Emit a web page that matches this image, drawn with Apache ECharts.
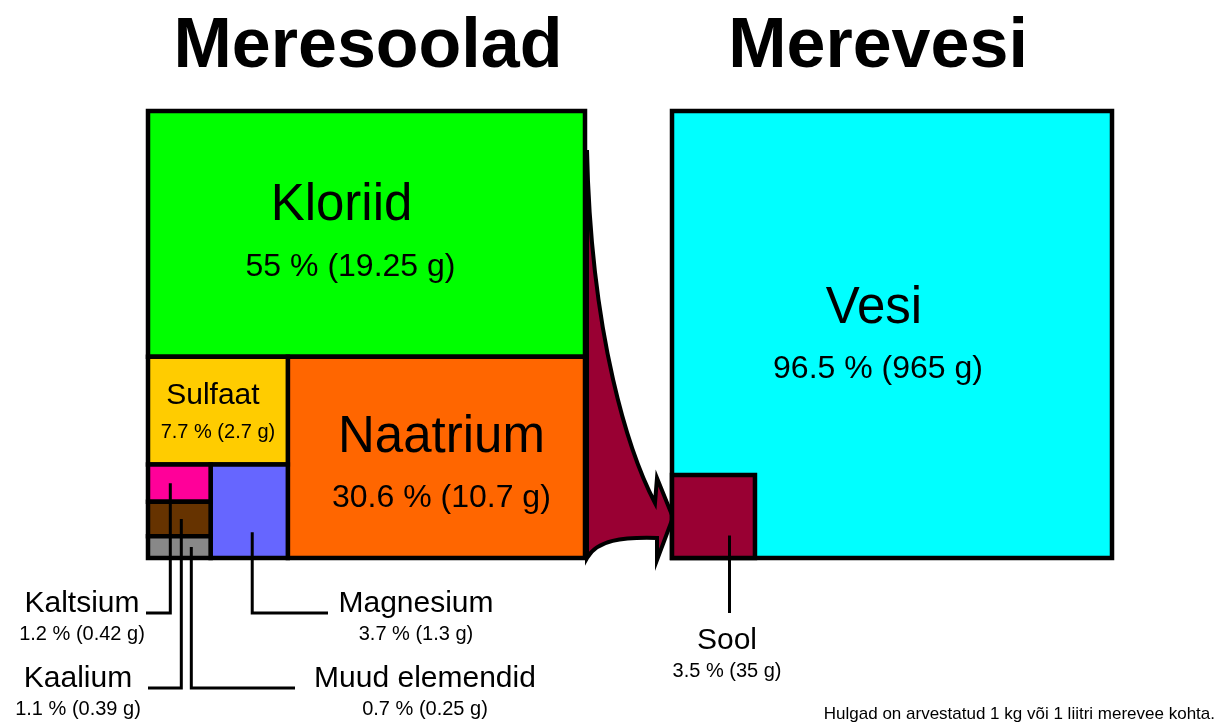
<!DOCTYPE html>
<html>
<head>
<meta charset="utf-8">
<script src="https://cdn.jsdelivr.net/npm/echarts@6/dist/echarts.min.js"></script>
<style>
    html, body { margin: 0; padding: 0; background: #fff; }
    #main { width: 1226px; height: 722px; }
</style>
</head>
<body>
<div id="main"></div>
<script>
    // meresoolad (sea salts), % of salt and grams per kg sea water
    var saltNames = ['Kloriid', 'Naatrium', 'Sulfaat', 'Magnesium', 'Kaltsium', 'Kaalium', 'Muud elemendid'];
    var saltPct = [55, 30.6, 7.7, 3.7, 1.2, 1.1, 0.7];
    var saltGrams = [19.25, 10.7, 2.7, 1.3, 0.42, 0.39, 0.25];
    var saltColors = ['#00ff00', '#ff6600', '#ffcc00', '#6666ff', '#ff0099', '#663300', '#888888'];

    // merevesi (sea water)
    var seaNames = ['Vesi', 'Sool'];
    var seaPct = [96.5, 3.5];
    var seaGrams = [965, 35];
    var seaColors = ['#00ffff', '#990033'];

    var titles = ['Meresoolad', 'Merevesi'];
    var footNote = 'Hulgad on arvestatud 1 kg või 1 liitri merevee kohta.';

    var FONT = '"Liberation Sans", Arial, sans-serif';

    // frames of the two squares, in chart units
    var leftBox = [148, 111, 585, 558];
    var rightBox = [672, 111, 1112, 558];

    // label placement: labels inside the cell (offsets from cell centre)
    var inner = {
        'Kloriid': {ns: 51, vs: 32, n: [-25, -28], v: [-16, 33]},
        'Naatrium': {ns: 51, vs: 32, n: [5, -19], v: [5, 41]},
        'Sulfaat': {ns: 30, vs: 20, n: [-5, -15], v: [0, 22]},
        'Vesi': {ns: 51, vs: 32, n: [-18, -26], v: [-14, 35]}
    };
    // labels with a leader line
    var leader = {
        'Kaltsium': {start: [-9, 0], elbowY: 613, endX: 146, tx: 82, ty: 604},
        'Kaalium': {start: [2, 0], elbowY: 688, endX: 148, tx: 78, ty: 679},
        'Muud elemendid': {start: [12, 0], elbowY: 688, endX: 295, tx: 425, ty: 679},
        'Magnesium': {start: [3, 21], elbowY: 613, endX: 328, tx: 416, ty: 604},
        'Sool': {start: [16, 19], elbowY: 613, endX: null, tx: 727, ty: 641}
    };

    function sum(a) {
        return a.reduce(function (s, v) { return s + v; }, 0);
    }

    function layoutSalts() {
        var x0 = leftBox[0], y0 = leftBox[1], x1 = leftBox[2], y1 = leftBox[3];
        var r = [];
        var total = sum(saltPct);
        var yK = y0 + (y1 - y0) * saltPct[0] / total;
        r[0] = [x0, y0, x1, yK];
        var rest = total - saltPct[0];
        var xN = x1 - (x1 - x0) * saltPct[1] / rest;
        r[1] = [xN, yK, x1, y1];
        var col = rest - saltPct[1];
        var yS = yK + (y1 - yK) * saltPct[2] / col;
        r[2] = [x0, yK, xN, yS];
        var small = saltPct[4] + saltPct[5] + saltPct[6];
        var xM = x0 + (xN - x0) * small / (col - saltPct[2]);
        r[3] = [xM, yS, xN, y1];
        var yy = yS;
        for (var i = 4; i < 7; i++) {
            var h = (y1 - yS) * saltPct[i] / small;
            r[i] = [x0, yy, xM, yy + h];
            yy += h;
        }
        return r;
    }

    function layoutSea() {
        var x0 = rightBox[0], y0 = rightBox[1], x1 = rightBox[2], y1 = rightBox[3];
        var side = Math.sqrt((x1 - x0) * (y1 - y0) * seaPct[1] / sum(seaPct));
        return [[x0, y0, x1, y1], [x0, y1 - side, x0 + side, y1]];
    }

    var cells = [];
    var sr = layoutSalts();
    saltNames.forEach(function (n, i) {
        cells.push({name: n, pct: saltPct[i], grams: saltGrams[i], color: saltColors[i], rect: sr[i]});
    });
    var wr = layoutSea();
    seaNames.forEach(function (n, i) {
        cells.push({name: n, pct: seaPct[i], grams: seaGrams[i], color: seaColors[i], rect: wr[i]});
    });

    function txt(x, y, s, size, weight) {
        return {
            type: 'text', x: x, y: y, z2: 20,
            style: {
                text: s, fill: '#000', fontSize: size, fontFamily: FONT,
                fontWeight: weight || 'normal', align: 'center', verticalAlign: 'middle'
            }
        };
    }

    function renderCell(params, api) {
        var c = cells[params.dataIndex];
        var p0 = api.coord([c.rect[0], c.rect[1]]);
        var p1 = api.coord([c.rect[2], c.rect[3]]);
        var cx = (c.rect[0] + c.rect[2]) / 2, cy = (c.rect[1] + c.rect[3]) / 2;
        var valueText = c.pct + ' % (' + c.grams + ' g)';
        var children = [{
            type: 'rect', z2: params.dataIndex,
            shape: {x: p0[0], y: p0[1], width: p1[0] - p0[0], height: p1[1] - p0[1]},
            style: {fill: c.color, stroke: '#000', lineWidth: 4.5, lineJoin: 'miter'}
        }];
        var lab = inner[c.name];
        if (lab) {
            var pn = api.coord([cx + lab.n[0], cy + lab.n[1]]);
            var pv = api.coord([cx + lab.v[0], cy + lab.v[1]]);
            children.push(txt(pn[0], pn[1], c.name, lab.ns));
            children.push(txt(pv[0], pv[1], valueText, lab.vs));
        }
        var ld = leader[c.name];
        if (ld) {
            var pts = [[cx + ld.start[0], cy + ld.start[1]], [cx + ld.start[0], ld.elbowY]];
            if (ld.endX !== null) pts.push([ld.endX, ld.elbowY]);
            children.push({
                type: 'polyline', z2: 15,
                shape: {points: pts.map(function (q) { return api.coord(q); })},
                style: {stroke: '#000', lineWidth: 3, fill: null}
            });
            var tn = api.coord([ld.tx, ld.ty]);
            var tv = api.coord([ld.tx, ld.ty + 30]);
            children.push(txt(tn[0], tn[1], c.name, 30));
            children.push(txt(tv[0], tv[1], valueText, 20));
        }
        return {type: 'group', children: children};
    }

    // the arrow from the salts square to the "Sool" cell
    function renderArrow(params, api) {
        var sool = cells[cells.length - 1].rect;
        var a = function (x, y) { return api.coord([x, y]); };
        var p = [
            a(leftBox[2] + 2, 150), a(591, 340), a(630, 455), a(sool[0] - 17, 503),
            a(sool[0] - 15, 478), a(sool[0] + 1, (sool[1] + sool[3]) / 2 + 1), a(sool[0] - 15, 560),
            a(sool[0] - 15, 538), a(622, 537), a(597, 540), a(leftBox[2] + 2, leftBox[3])
        ];
        var d = 'M' + p[0] + ' C' + p[1] + ' ' + p[2] + ' ' + p[3] +
            ' L' + p[4] + ' L' + p[5] + ' L' + p[6] + ' L' + p[7] +
            ' C' + p[8] + ' ' + p[9] + ' ' + p[10] + ' Z';
        return {
            type: 'path',
            shape: {pathData: d},
            style: {fill: '#990033', stroke: '#000', lineWidth: 4, lineJoin: 'miter'}
        };
    }

    var chartDom = document.getElementById('main');
    var myChart = echarts.init(chartDom);

    var option = {
        animation: false,
        grid: {left: 0, right: 0, top: 0, bottom: 0},
        xAxis: {type: 'value', min: 0, max: 1226, show: false},
        yAxis: {type: 'value', min: 0, max: 722, inverse: true, show: false},
        graphic: [
            {
                type: 'text', x: 368, y: 48, z: 10,
                style: {text: titles[0], fill: '#000', font: 'bold 70px ' + FONT, align: 'center', verticalAlign: 'middle'}
            },
            {
                type: 'text', x: 878, y: 48, z: 10,
                style: {text: titles[1], fill: '#000', font: 'bold 70px ' + FONT, align: 'center', verticalAlign: 'middle'}
            },
            {
                type: 'text', x: 1215, y: 714, z: 10,
                style: {text: footNote, fill: '#000', font: '17px ' + FONT, align: 'right', verticalAlign: 'middle'}
            }
        ],
        series: [{
            type: 'custom',
            coordinateSystem: 'cartesian2d',
            renderItem: renderArrow,
            data: [[0]],
            z: 1,
            silent: true
        }, {
            type: 'custom',
            coordinateSystem: 'cartesian2d',
            renderItem: renderCell,
            data: cells.map(function (c, i) { return [i]; }),
            z: 2,
            silent: true
        }]
    };

    option && myChart.setOption(option);
</script>
</body>
</html>
